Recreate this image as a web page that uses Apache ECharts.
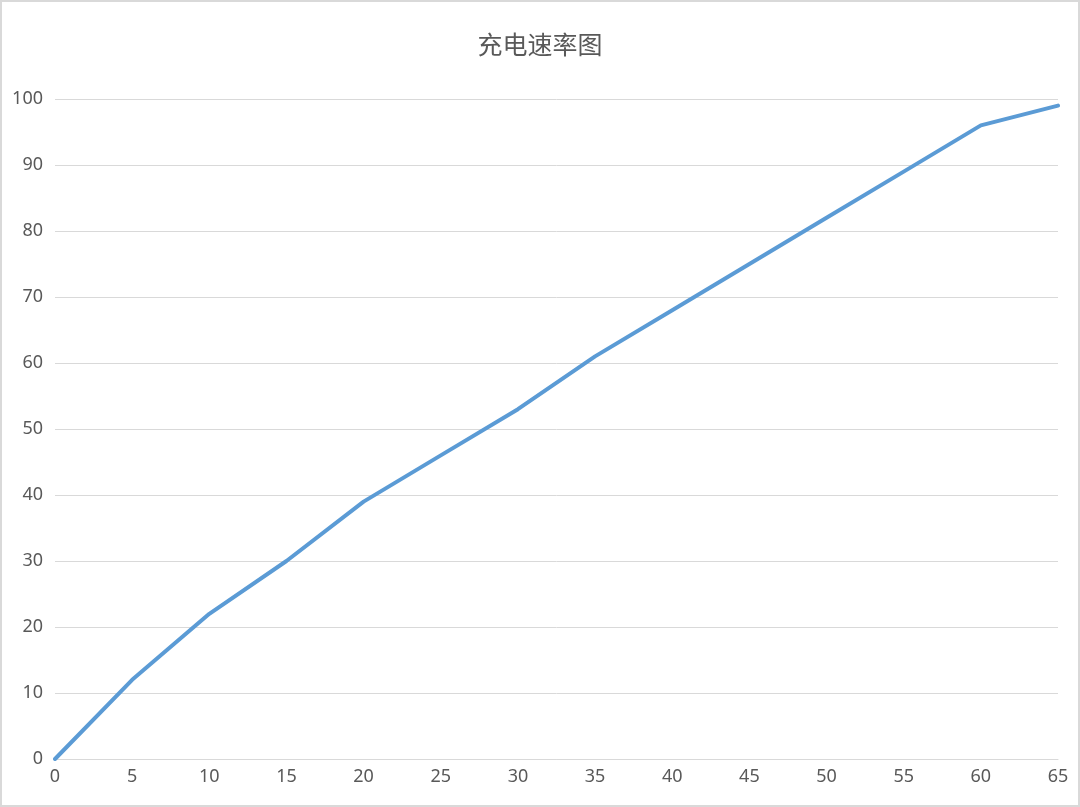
<!DOCTYPE html>
<html>
<head>
<meta charset="utf-8">
<script src="https://cdn.jsdelivr.net/npm/echarts@6/dist/echarts.min.js"></script>
<style>
html,body{margin:0;padding:0;background:#fff;}
#main{width:1080px;height:807px;}
</style>
</head>
<body>
<div id="main"></div>
<script>
const categories = ['0','5','10','15','20','25','30','35','40','45','50','55','60','65'];
const chargeValues = [0, 12, 22, 30, 39, 46, 53, 61, 68, 75, 82, 89, 96, 99];
const titleText = '充电速率图';

const chart = echarts.init(document.getElementById('main'));
chart.setOption({
  backgroundColor: '#ffffff',
  animation: false,
  title: {
    text: titleText,
    left: 'center',
    top: 27,
    textStyle: {
      fontFamily: 'Noto Sans CJK SC',
      fontSize: 25,
      fontWeight: 'normal',
      color: '#595959'
    }
  },
  graphic: [{
    type: 'rect',
    shape: {x: 1, y: 1, width: 1078, height: 805},
    style: {fill: 'none', stroke: '#d9d9d9', lineWidth: 2},
    silent: true
  }],
  grid: {left: 55, right: 22, top: 99, bottom: 48},
  xAxis: {
    type: 'category',
    data: categories,
    boundaryGap: false,
    axisLine: {show: true, lineStyle: {color: '#d9d9d9', width: 1}},
    axisTick: {show: false},
    axisLabel: {color: '#595959', fontSize: 18, margin: 9, fontFamily: 'Noto Sans'},
    splitLine: {show: false}
  },
  yAxis: {
    type: 'value',
    min: 0,
    max: 100,
    interval: 10,
    axisLine: {show: false},
    axisTick: {show: false},
    axisLabel: {color: '#595959', fontSize: 18, margin: 12, fontFamily: 'Noto Sans'},
    splitLine: {show: true, lineStyle: {color: '#d9d9d9', width: 1}}
  },
  series: [{
    type: 'line',
    data: chargeValues,
    showSymbol: false,
    symbol: 'none',
    lineStyle: {color: '#5b9bd5', width: 4, cap: 'round', join: 'round'},
    itemStyle: {color: '#5b9bd5'}
  }]
});
</script>
</body>
</html>
